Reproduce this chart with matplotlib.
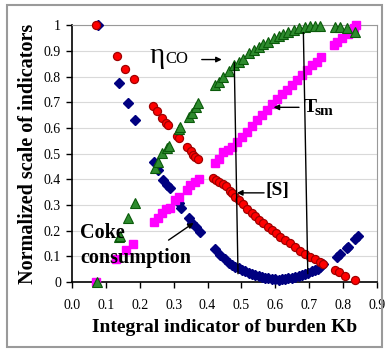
import matplotlib
matplotlib.use("Agg")
import matplotlib.pyplot as plt
from matplotlib.patches import Rectangle

# ---- data ----
s_x = [0.071, 0.133, 0.157, 0.182, 0.239, 0.252, 0.265, 0.278, 0.284, 0.311, 0.316, 0.340, 0.351,
       0.358, 0.364, 0.371, 0.416, 0.425, 0.433, 0.445, 0.454, 0.465, 0.472, 0.482, 0.492, 0.504,
       0.516, 0.530, 0.541, 0.553, 0.565, 0.580, 0.590, 0.602, 0.614, 0.629, 0.644, 0.659, 0.673,
       0.688, 0.703, 0.718, 0.732, 0.740, 0.777, 0.787, 0.806, 0.836]
s_y = [1.00, 0.88, 0.83, 0.79, 0.685, 0.665, 0.638, 0.62, 0.612, 0.57, 0.56, 0.525, 0.511,
       0.495, 0.485, 0.477, 0.405, 0.397, 0.39, 0.38, 0.372, 0.355, 0.345, 0.332, 0.32, 0.302,
       0.283, 0.268, 0.255, 0.242, 0.228, 0.213, 0.202, 0.19, 0.176, 0.163, 0.15, 0.137, 0.122,
       0.11, 0.099, 0.088, 0.078, 0.07, 0.045, 0.038, 0.024, 0.008]

coke_x = [0.077, 0.140, 0.164, 0.187, 0.241, 0.254, 0.270, 0.280, 0.288, 0.315, 0.322, 0.344, 0.354,
          0.366, 0.378, 0.423, 0.438, 0.452, 0.462, 0.472, 0.482, 0.492, 0.501, 0.511, 0.521, 0.531,
          0.541, 0.551, 0.560, 0.570, 0.580, 0.590, 0.600, 0.610, 0.620, 0.630, 0.639, 0.649, 0.659,
          0.669, 0.678, 0.688, 0.698, 0.708, 0.718, 0.725, 0.732, 0.742, 0.782, 0.792, 0.811, 0.814,
          0.836, 0.844]
coke_y = [1.0, 0.773, 0.695, 0.63, 0.468, 0.436, 0.397, 0.377, 0.364, 0.306, 0.287, 0.248, 0.228,
          0.213, 0.196, 0.127, 0.105, 0.088, 0.075, 0.066, 0.06, 0.053, 0.047, 0.041, 0.036, 0.031,
          0.027, 0.024, 0.021, 0.017, 0.014, 0.012, 0.01, 0.009, 0.01, 0.011, 0.014, 0.017, 0.021,
          0.024, 0.027, 0.031, 0.036, 0.041, 0.047, 0.052, 0.06, 0.069, 0.098, 0.11, 0.131, 0.137,
          0.166, 0.179]

tsm_x = [0.071, 0.130, 0.160, 0.181, 0.241, 0.254, 0.265, 0.278, 0.288, 0.305, 0.315, 0.339, 0.349,
         0.362, 0.374, 0.423, 0.433, 0.447, 0.460, 0.472, 0.487, 0.501, 0.516, 0.531, 0.546, 0.560,
         0.575, 0.590, 0.605, 0.619, 0.634, 0.649, 0.664, 0.678, 0.693, 0.708, 0.723, 0.735, 0.772,
         0.782, 0.796, 0.816, 0.831, 0.838]
tsm_y = [0.0, 0.088, 0.125, 0.148, 0.235, 0.248, 0.267, 0.283, 0.29, 0.319, 0.332, 0.358, 0.377,
         0.39, 0.40, 0.462, 0.48, 0.505, 0.515, 0.526, 0.546, 0.565, 0.585, 0.607, 0.63, 0.65,
         0.669, 0.693, 0.711, 0.732, 0.747, 0.767, 0.786, 0.805, 0.825, 0.844, 0.857, 0.874, 0.922,
         0.935, 0.948, 0.967, 0.987, 1.0]

eta_x = [0.075, 0.138, 0.143, 0.165, 0.185, 0.244, 0.254, 0.267, 0.280, 0.287, 0.317, 0.320, 0.344,
         0.354, 0.366, 0.372, 0.423, 0.433, 0.447, 0.462, 0.477, 0.492, 0.506, 0.521, 0.536, 0.551,
         0.565, 0.580, 0.595, 0.610, 0.624, 0.639, 0.654, 0.669, 0.688, 0.703, 0.718, 0.732, 0.777,
         0.792, 0.811, 0.836]
eta_y = [0.0, 0.174, 0.179, 0.248, 0.306, 0.442, 0.468, 0.503, 0.52, 0.53, 0.594, 0.605, 0.643,
         0.659, 0.68, 0.695, 0.767, 0.779, 0.799, 0.822, 0.844, 0.857, 0.87, 0.89, 0.903, 0.916,
         0.926, 0.935, 0.948, 0.957, 0.967, 0.974, 0.981, 0.987, 0.994, 0.996, 0.996, 0.996, 0.994,
         0.994, 0.987, 0.974]

x_ticks = [0.0, 0.1, 0.2, 0.3, 0.4, 0.5, 0.6, 0.7, 0.8, 0.9]
y_ticks = [0, 0.1, 0.2, 0.3, 0.4, 0.5, 0.6, 0.7, 0.8, 0.9, 1]
y_labels = ["0", "0.1", "0.2", "0.3", "0.4", "0.5", "0.6", "0.7", "0.8", "0.9", "1"]

plt.rcParams['font.family'] = ['Liberation Serif', 'DejaVu Serif']

fig = plt.figure(figsize=(3.85, 3.49), dpi=100)
fig.patches.append(Rectangle((0.018, 0.006), 0.974, 0.98, transform=fig.transFigure,
                             fill=False, edgecolor='#9a9a9a', lw=1.5))
ax = fig.add_axes([0.187, 0.192, 0.792, 0.736])

for yv in y_ticks[1:]:
    ax.axhline(yv, color='#d9d9d9', lw=0.8, zorder=0)

ax.plot(coke_x, coke_y, 'D', color='#000080', ms=4.8, mec='#000080', zorder=3, clip_on=False)
ax.plot(s_x, s_y, 'o', color='#ff0000', ms=5.8, mec='#a00000', mew=0.9, zorder=4, clip_on=False)
ax.plot(tsm_x, tsm_y, 's', color='#ff00ff', ms=5.3, mec='#ff00ff', zorder=5, clip_on=False)
ax.plot(eta_x, eta_y, '^', color='#2e8b2e', ms=6.6, mec='#0a5a0a', mew=0.8, zorder=6, clip_on=False)

ax.plot([0.479, 0.490], [0.853, 0.033], color='black', lw=1, zorder=7)
ax.plot([0.683, 0.696], [0.970, 0.033], color='black', lw=1, zorder=7)

ax.set_xlim(0, 0.9)
ax.set_ylim(0, 1)
ax.set_xticks(x_ticks)
ax.set_xticklabels([f"{v:.1f}" for v in x_ticks])
ax.set_yticks(y_ticks)
ax.set_yticklabels(y_labels)
ax.tick_params(direction='out', length=4, width=1, labelsize=10, pad=8)
ax.tick_params(axis='y', pad=4)
for side in ['top', 'right']:
    ax.spines[side].set_color('#999999')
for side in ['left', 'bottom']:
    ax.spines[side].set_color('black')
    ax.spines[side].set_linewidth(1.2)

ax.set_xlabel('Integral indicator of burden Kb', fontsize=14, fontweight='bold', labelpad=5)
ax.set_ylabel('Normalized scale of indicators', fontsize=14.5, fontweight='bold', labelpad=4)

arrow = dict(arrowstyle='-|>', lw=1, color='black', mutation_scale=8, shrinkA=0, shrinkB=0)

ax.text(0.228, 0.851, 'η', fontsize=21, ha='left', va='baseline', zorder=8)
ax.text(0.277, 0.851, 'CO', fontsize=12, ha='left', va='baseline', zorder=8)
ax.annotate('', xy=(0.442, 0.866), xytext=(0.383, 0.866), arrowprops=arrow, zorder=8)

ax.text(0.683, 0.663, 'T', fontsize=14, fontweight='bold', ha='left', va='baseline', zorder=8)
ax.text(0.716, 0.650, 'sm', fontsize=11, fontweight='bold', ha='left', va='baseline', zorder=8)
ax.annotate('', xy=(0.595, 0.680), xytext=(0.670, 0.680), arrowprops=arrow, zorder=8)

ax.text(0.570, 0.358, '[S]', fontsize=14, fontweight='bold', ha='left', va='center', zorder=8)
ax.annotate('', xy=(0.487, 0.347), xytext=(0.567, 0.347), arrowprops=arrow, zorder=8)

ax.text(0.024, 0.171, 'Coke', fontsize=14.5, fontweight='bold', ha='left', va='baseline', zorder=8)
ax.text(0.024, 0.074, 'consumption', fontsize=14.5, fontweight='bold', ha='left', va='baseline', zorder=8)
ax.annotate('', xy=(0.359, 0.230), xytext=(0.285, 0.163), arrowprops=arrow, zorder=8)

fig.savefig('out.png', dpi=100)
